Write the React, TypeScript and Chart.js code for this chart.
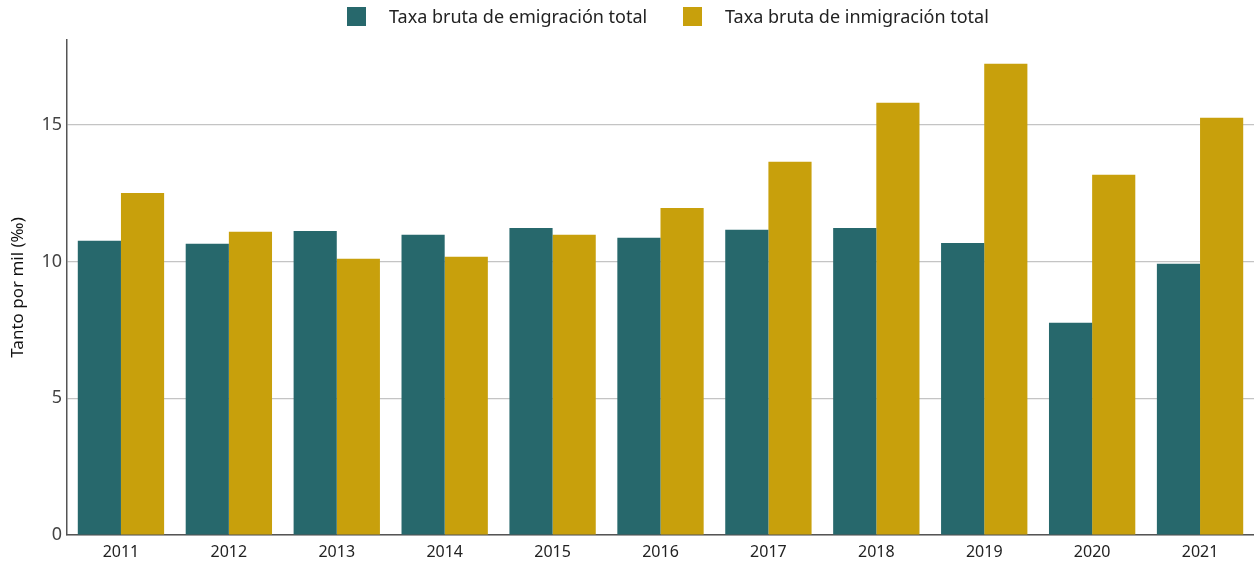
import React, { useEffect, useRef } from "react";
import { Chart, registerables } from "chart.js";

Chart.register(...registerables);

const categories = ["2011", "2012", "2013", "2014", "2015", "2016", "2017", "2018", "2019", "2020", "2021"];
const emigracion = [10.76, 10.65, 11.12, 10.98, 11.23, 10.87, 11.16, 11.23, 10.68, 7.76, 9.92];
const inmigracion = [12.51, 11.09, 10.1, 10.17, 10.98, 11.96, 13.65, 15.81, 17.23, 13.17, 15.26];
const seriesNames = ["Taxa bruta de emigración total", "Taxa bruta de inmigración total"];
const colors = ["#27686C", "#C8A00C"];
const yTitle = "Tanto por mil (‰)";
const FONT = "'Noto Sans', sans-serif";

export default function App() {
  const ref = useRef<HTMLCanvasElement>(null);
  useEffect(() => {
    document.body.style.margin = "0";
    const chart = new Chart(ref.current!, {
      type: "bar",
      data: {
        labels: categories,
        datasets: [
          { label: seriesNames[0], data: emigracion, backgroundColor: colors[0] },
          { label: seriesNames[1], data: inmigracion, backgroundColor: colors[1] },
        ],
      },
      options: {
        animation: false,
        responsive: false,
        maintainAspectRatio: false,
        layout: { padding: { top: 40, right: -3, left: 2, bottom: 0 } },
        plugins: { legend: { display: false }, tooltip: { enabled: false } },
        datasets: { bar: { categoryPercentage: 0.8, barPercentage: 1 } },
        scales: {
          x: {
            grid: { display: false, drawTicks: false },
            border: { display: true, color: "#555", width: 1.5 },
            ticks: { color: "#222", font: { family: FONT, size: 16 }, padding: 8 },
            afterFit: (s: any) => {
              s.height = 28;
            },
          },
          y: {
            min: 0,
            max: 18.1,
            afterBuildTicks: (s: any) => {
              s.ticks = s.ticks.filter((t: any) => Math.abs(t.value % 5) < 1e-9);
            },
            afterFit: (s: any) => {
              s.width = 65;
            },
            grid: { color: "#c4c4c4", lineWidth: 1.2, drawTicks: false },
            border: { display: true, color: "#555", width: 1.5 },
            ticks: { stepSize: 5, color: "#444", font: { family: FONT, size: 18 }, padding: 5 },
            title: {
              display: true,
              text: yTitle,
              color: "#111",
              font: { family: FONT, size: 17 },
              padding: { top: 6, bottom: 0 },
            },
          },
        },
      },
    });
    return () => chart.destroy();
  }, []);

  const legendItem = (i: number, left: number) => (
    <div style={{ position: "absolute", left, top: 7, display: "flex", alignItems: "center" }}>
      <div style={{ width: 19, height: 19, background: colors[i] }} />
      <span style={{ marginLeft: 23, fontFamily: FONT, fontSize: 18, color: "#222", lineHeight: "19px" }}>
        {seriesNames[i]}
      </span>
    </div>
  );

  return (
    <div style={{ position: "relative", width: 1254, height: 563 }}>
      <canvas ref={ref} width={1254} height={563} style={{ display: "block" }} />
      {legendItem(0, 347)}
      {legendItem(1, 683)}
    </div>
  );
}
